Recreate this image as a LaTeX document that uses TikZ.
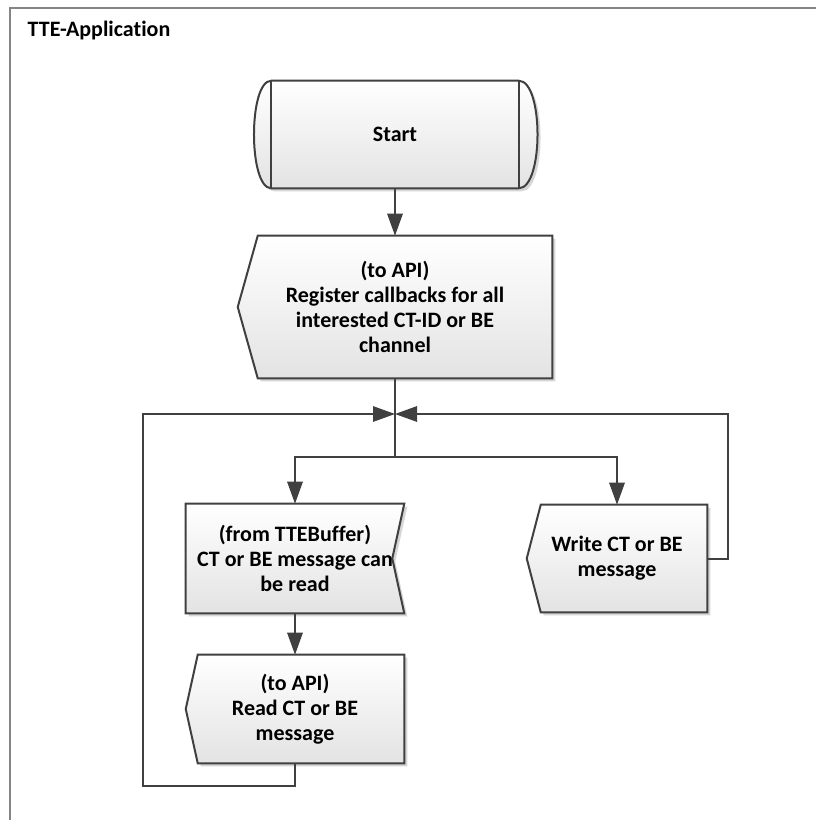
\documentclass[tikz,border=0pt]{standalone}
\usepackage{fontspec}
\setmainfont{Carlito}[Ligatures=NoCommon]
\usetikzlibrary{arrows.meta,calc,backgrounds}

\definecolor{ink}{HTML}{404040}
\definecolor{framegray}{HTML}{858585}

% outlines of the flowchart symbols, built from the anchors of their text nodes
\newcommand\shpStart{(start.north west) -- (start.north east)
  .. controls ($(start.north east)+(25,0)$) and ($(start.south east)+(25,0)$) .. (start.south east)
  -- (start.south west)
  .. controls ($(start.south west)+(-23,0)$) and ($(start.north west)+(-23,0)$) .. cycle}
\newcommand\shpReg{(reg.west) -- ($(reg.north west)+(20,0)$) -- (reg.north east)
  -- (reg.south east) -- ($(reg.south west)+(20,0)$) -- cycle}
\newcommand\shpBuf{(buf.north west) -- (buf.north east) -- ($(buf.east)+(-12,0)$)
  -- (buf.south east) -- (buf.south west) -- cycle}
\newcommand\shpRead{(read.west) -- ($(read.north west)+(12,0)$) -- (read.north east)
  -- (read.south east) -- ($(read.south west)+(12,0)$) -- cycle}
\newcommand\shpWrite{(write.west) -- ($(write.north west)+(14,0)$) -- (write.north east)
  -- (write.south east) -- ($(write.south west)+(14,0)$) -- cycle}

\begin{document}
\begin{tikzpicture}[x=0.75pt,y=-0.75pt,
  labeltext/.style={font=\fontsize{16.5}{18.75}\selectfont\bfseries, align=center, text=black},
  body/.style={labeltext, draw=none, inner sep=0pt},
  outline/.style={draw=ink, line width=1.5pt, line join=miter, top color=white, bottom color=black!11},
  shadowfill/.style={fill=black!16, draw=none},
  link/.style={draw=ink, line width=1.5pt},
  flow/.style={link, -{Triangle[length=16.5pt,width=11.5pt]}},
]
\useasboundingbox (0,0) rectangle (816,820);

% surrounding frame
\draw[framegray, line width=1.5pt] (10,840) -- (10,8) -- (840,8);
\node[labeltext, anchor=west] (title) at (23,31) {TTE-Application};

% text nodes
\node[body, minimum width=185.25pt, minimum height=80.25pt] (start) at (395,134.5) {Start};
\node[body, minimum width=235.5pt, minimum height=106.5pt] (reg) at (395,307)
  {(to API)\\Register callbacks for all\\interested CT-ID or BE\\channel};
\node[body, minimum width=163.5pt, minimum height=81.75pt] (buf) at (295,558.5)
  {(from TTEBuffer)\\CT or BE message can\\be read};
\node[body, minimum width=163.5pt, minimum height=81pt] (read) at (295,709)
  {(to API)\\Read CT or BE\\message};
\node[body, minimum width=135pt, minimum height=80.25pt] (write) at (617,558.5)
  {Write CT or BE\\message};

% symbol bodies with their soft shadows
\begin{scope}[on background layer]
  \fill[white] (0,0) rectangle (816,820);
  \begin{scope}[transform canvas={shift={(3,3)}}]
    \path[shadowfill] \shpStart;
    \path[shadowfill] \shpReg;
    \path[shadowfill] \shpBuf;
    \path[shadowfill] \shpRead;
    \path[shadowfill] \shpWrite;
  \end{scope}
  \path[outline] \shpStart;
  \draw[link] (start.north west) -- (start.south west);
  \draw[link] (start.north east) -- (start.south east);
  \path[outline] \shpReg;
  \path[outline] \shpBuf;
  \path[outline] \shpRead;
  \path[outline] \shpWrite;
\end{scope}

% routing points
\coordinate (join) at (395,414);
\coordinate (split) at (395,457);
\coordinate (loopL) at (143,786);
\coordinate (loopR) at (728,414);

% connectors
\draw[flow] (start.south) -- (reg.north);
\draw[link] (reg.south) -- (split);
\draw[flow] (split) -| (buf.north);
\draw[flow] (split) -| (write.north);
\draw[flow] (buf.south) -- (read.north);
\draw[flow] (read.south) |- (loopL) |- (join);
\draw[flow] (write.east) -| (loopR) -- (join);
\end{tikzpicture}
\end{document}
